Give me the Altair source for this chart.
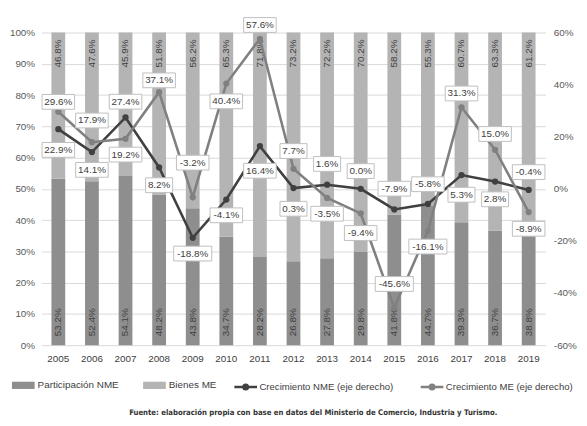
import altair as alt
import pandas as pd

years = [str(y) for y in range(2005, 2020)]
part_nme = [53.2, 52.4, 54.1, 48.2, 43.8, 34.7, 28.2, 26.8, 27.8, 29.8, 41.8, 44.7, 39.3, 36.7, 38.8]
bienes_me = [46.8, 47.6, 45.9, 51.8, 56.2, 65.3, 71.8, 73.2, 72.2, 70.2, 58.2, 55.3, 60.7, 63.3, 61.2]
crec_nme = [22.9, 14.1, 27.4, 8.2, -18.8, -4.1, 16.4, 0.3, 1.6, 0.0, -7.9, -5.8, 5.3, 2.8, -0.4]
crec_me = [29.6, 17.9, 19.2, 37.1, -3.2, 40.4, 57.6, 7.7, -3.5, -9.4, -45.6, -16.1, 31.3, 15.0, -8.9]

# label offsets in pixels (positive = below the point) -- layout only
off_nme = [21, 18, -16, 18, 16, 16, 25, 21, -21, -18, -21, -20, 20, 18, -18]
off_me = [-10, -22, 16, -12, -35, 18, -14, -18, 16, 20, -24, 16, -14, -16, 17]

S_NME = "Participación NME"
S_ME = "Bienes ME"
L_NME = "Crecimiento NME (eje derecho)"
L_ME = "Crecimiento ME (eje derecho)"

W, H = 511, 317
PX = H / 120.0
FONT = "Liberation Sans"
TXT = "#404040"

bars = pd.DataFrame(
    [{"year": y, "series": S_NME, "value": v, "ord": 0, "label": f"{v:.1f}%", "ypos": 0} for y, v in zip(years, part_nme)]
    + [{"year": y, "series": S_ME, "value": v, "ord": 1, "label": f"{v:.1f}%", "ypos": 100} for y, v in zip(years, bienes_me)]
)


def line_df(series, vals, offs):
    rows = []
    for y, v, o in zip(years, vals, offs):
        lab = f"{v:.1f}%"
        bw = 5.6 * len(lab) + 5
        bh = 15.0
        h = bh / bw
        rows.append({
            "year": y, "series": series, "value": v, "label": lab,
            "label_y": v - o / PX,
            "shape": f"M-1,{-h:.4f}L1,{-h:.4f}L1,{h:.4f}L-1,{h:.4f}Z",
            "size": bw * bw,
        })
    return pd.DataFrame(rows)


d_nme = line_df(L_NME, crec_nme, off_nme)
d_me = line_df(L_ME, crec_me, off_me)

x_enc = alt.X(
    "year:N", sort=years, title=None,
    scale=alt.Scale(paddingInner=0.59, paddingOuter=0.295),
    axis=alt.Axis(labelAngle=0, ticks=False, domain=False, labelPadding=9,
                  labelFontSize=10, labelColor=TXT, labelFont=FONT),
)

left_scale = alt.Scale(domain=[0, 100], nice=False)
left_axis = alt.Axis(values=list(range(0, 101, 10)), labelExpr="datum.value + '%'", title=None,
                     grid=True, gridColor="#d9d9d9", ticks=False, domain=False, labelPadding=7,
                     labelFontSize=10, labelColor="#595959", labelFont=FONT)
right_scale = alt.Scale(domain=[-60, 60], nice=False)
right_axis = alt.Axis(orient="right", values=list(range(-60, 61, 20)), labelExpr="datum.value + '%'",
                      title=None, grid=False, ticks=False, domain=False, labelPadding=8,
                      labelFontSize=10, labelColor="#595959", labelFont=FONT)

bar_layer = alt.Chart(bars).mark_bar().encode(
    x=x_enc,
    y=alt.Y("value:Q", stack="zero", scale=left_scale, axis=left_axis),
    color=alt.Color("series:N", scale=alt.Scale(domain=[S_NME, S_ME], range=["#8e8e8e", "#b4b4b4"]),
                    legend=alt.Legend(orient="none", legendX=-30, legendY=346, direction="horizontal",
                                      title=None, symbolType="M-1,-0.32L1,-0.32L1,0.32L-1,0.32Z",
                                      symbolSize=529, symbolStrokeWidth=0, labelFontSize=10,
                                      labelColor=TXT, labelFont=FONT, labelOffset=3, columnPadding=24)),
    order=alt.Order("ord:Q"),
)

bar_txt_nme = alt.Chart(bars).transform_filter(alt.datum.series == S_NME).mark_text(
    angle=270, align="left", baseline="middle", dx=9, fontSize=10, color=TXT, font=FONT
).encode(x=x_enc, y=alt.Y("ypos:Q", scale=left_scale, axis=left_axis), text="label:N")

bar_txt_me = alt.Chart(bars).transform_filter(alt.datum.series == S_ME).mark_text(
    angle=270, align="right", baseline="middle", dx=-7, fontSize=10, color=TXT, font=FONT
).encode(x=x_enc, y=alt.Y("ypos:Q", scale=left_scale, axis=left_axis), text="label:N")

bar_group = alt.layer(bar_layer, bar_txt_nme, bar_txt_me)

stroke_scale = alt.Scale(domain=[L_NME, L_ME], range=["#404040", "#808080"])
line_legend = alt.Legend(
    orient="none", legendX=194, legendY=346, direction="horizontal", title=None,
    symbolType="M-1,0L1,0M-0.2,0A0.2,0.2,0,1,1,0.2,0A0.2,0.2,0,1,1,-0.2,0M-0.1,0A0.1,0.1,0,1,1,0.1,0A0.1,0.1,0,1,1,-0.1,0",
    symbolSize=529, symbolStrokeWidth=2.5, labelFontSize=9.7, labelColor=TXT, labelFont=FONT,
    labelOffset=1, columnPadding=22)


def series_layers(df, col):
    ln = alt.Chart(df).mark_line(strokeWidth=2.6).encode(
        x=x_enc, y=alt.Y("value:Q", scale=right_scale, axis=right_axis),
        stroke=alt.Stroke("series:N", scale=stroke_scale, legend=line_legend),
    )
    pt = alt.Chart(df).mark_point(filled=True, size=40, opacity=1, color=col).encode(
        x=x_enc, y=alt.Y("value:Q", scale=right_scale, axis=right_axis))
    return [ln, pt]


def label_layers(df):
    box = alt.Chart(df).mark_point(fill="white", stroke="#bfbfbf", strokeWidth=1, opacity=1,
                                   fillOpacity=1, filled=False).encode(
        x=x_enc, y=alt.Y("label_y:Q", scale=right_scale, axis=right_axis),
        shape=alt.Shape("shape:N", scale=None), size=alt.Size("size:Q", scale=None))
    txt = alt.Chart(df).mark_text(fontSize=10, color=TXT, font=FONT, baseline="middle").encode(
        x=x_enc, y=alt.Y("label_y:Q", scale=right_scale, axis=right_axis), text="label:N")
    return [box, txt]


line_group = alt.layer(
    *series_layers(d_nme, "#404040"),
    *series_layers(d_me, "#808080"),
    *label_layers(d_nme),
    *label_layers(d_me),
)

chart = alt.layer(bar_group, line_group).resolve_scale(y="independent").properties(
    width=W, height=H,
    padding={"left": 34, "top": 22, "right": 34, "bottom": 71},
    autosize=alt.AutoSizeParams(type="none"),
    background="white",
    title=alt.TitleParams(
        "Fuente: elaboración propia con base en datos del Ministerio de Comercio, Industria y Turismo.",
        orient="bottom", anchor="middle", fontSize=7.8, fontWeight="bold",
        font="Liberation Sans Narrow, DejaVu Sans Condensed", color="#333333", offset=15, dx=20),
).configure_view(stroke=None)

chart.save("out.html", embed_options={"renderer": "svg", "actions": False})
